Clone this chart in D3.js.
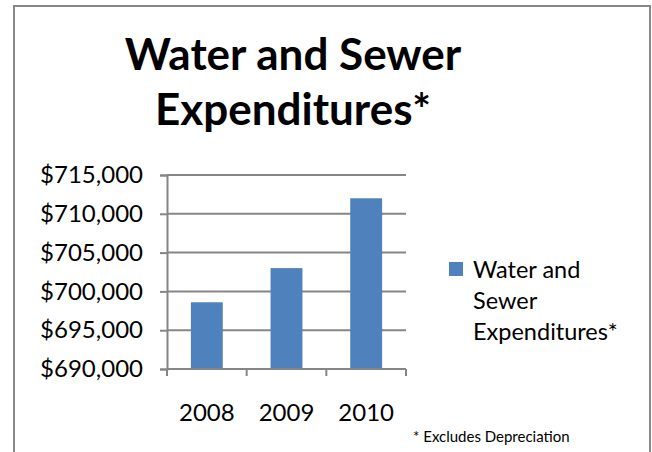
<!DOCTYPE html>
<html>
<head>
<meta charset="utf-8">
<script src="https://cdn.jsdelivr.net/npm/d3@7"></script>
<style>
  html, body { margin: 0; padding: 0; background: #fff; }
  svg { display: block; font-family: Lato, "Open Sans", sans-serif; }
</style>
</head>
<body>
<svg id="chart" width="652" height="452"></svg>
<script>
// Annual water and sewer spending (depreciation excluded)
const years = ["2008", "2009", "2010"];
const expenditures = [698600, 703000, 712000];
const yTicks = [690000, 695000, 700000, 705000, 710000, 715000];
const titleLines = ["Water and Sewer", "Expenditures*"];
const legendLines = ["Water and", "Sewer", "Expenditures*"];
const footnote = "* Excludes Depreciation";

const svg = d3.select("#chart");
const barColor = "#4F81BD";
const gridColor = "#868686";

// chart frame (runs off the bottom edge)
svg.append("rect")
  .attr("x", 14).attr("y", 6)
  .attr("width", 636).attr("height", 460)
  .attr("fill", "#fff")
  .attr("stroke", "#888").attr("stroke-width", 2);

// title
svg.append("text")
  .attr("x", 293).attr("y", 70)
  .attr("text-anchor", "middle")
  .attr("font-size", 44).attr("font-weight", "bold").attr("fill", "#000")
  .selectAll("tspan").data(titleLines).join("tspan")
  .attr("x", 293).attr("dy", (d, i) => i === 0 ? 0 : 55)
  .text(d => d);

const plot = { left: 167, right: 406, top: 175, bottom: 369 };

const x = d3.scaleBand().domain(years)
  .range([plot.left, plot.right])
  .paddingInner(0.6).paddingOuter(0.3);

const y = d3.scaleLinear().domain([690000, 715000])
  .range([plot.bottom, plot.top]);

// horizontal gridlines
svg.append("g")
  .selectAll("line").data(yTicks.slice(1)).join("line")
  .attr("x1", plot.left).attr("x2", plot.right)
  .attr("y1", d => y(d)).attr("y2", d => y(d))
  .attr("stroke", gridColor).attr("stroke-width", 2);

// bars
svg.append("g")
  .selectAll("rect").data(expenditures).join("rect")
  .attr("x", (d, i) => x(years[i]))
  .attr("width", x.bandwidth())
  .attr("y", d => y(d))
  .attr("height", d => y(690000) - y(d))
  .attr("fill", barColor);

// y axis
const yAxis = svg.append("g")
  .attr("transform", `translate(${plot.left},0)`)
  .call(d3.axisLeft(y).tickValues(yTicks)
    .tickFormat(d => "$" + d3.format(",")(d))
    .tickSize(7).tickPadding(17));
yAxis.select(".domain").attr("stroke", gridColor).attr("stroke-width", 2);
yAxis.selectAll(".tick line").attr("stroke", gridColor).attr("stroke-width", 2);
yAxis.selectAll(".tick text")
  .attr("font-size", 24).attr("fill", "#000").attr("font-family", "Lato, sans-serif");

// x axis with ticks on the category boundaries
const xAxisG = svg.append("g")
  .attr("transform", `translate(0,${plot.bottom})`);
xAxisG.append("line")
  .attr("x1", plot.left).attr("x2", plot.right)
  .attr("stroke", gridColor).attr("stroke-width", 2);
const step = (plot.right - plot.left) / years.length;
const boundaries = d3.range(years.length + 1).map(i => plot.left + i * step);
xAxisG.selectAll(".bt").data(boundaries).join("line")
  .attr("class", "bt")
  .attr("x1", d => d).attr("x2", d => d)
  .attr("y1", 0).attr("y2", 7)
  .attr("stroke", gridColor).attr("stroke-width", 2);
xAxisG.selectAll("text").data(years).join("text")
  .attr("x", d => x(d) + x.bandwidth() / 2)
  .attr("y", 52)
  .attr("text-anchor", "middle")
  .attr("font-size", 24).attr("fill", "#000")
  .text(d => d);

// legend
const legend = svg.append("g");
legend.append("rect")
  .attr("x", 449).attr("y", 262)
  .attr("width", 14).attr("height", 14)
  .attr("fill", barColor);
legend.append("text")
  .attr("font-size", 23.5).attr("fill", "#000")
  .selectAll("tspan").data(legendLines).join("tspan")
  .attr("x", 473).attr("y", (d, i) => 278 + i * 31)
  .text(d => d);

// footnote
svg.append("text")
  .attr("x", 413).attr("y", 442)
  .attr("font-size", 15).attr("fill", "#000")
  .text(footnote);
</script>
</body>
</html>
